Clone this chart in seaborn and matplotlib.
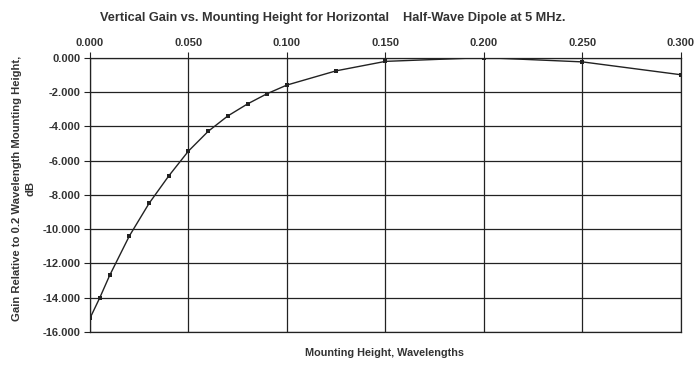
import seaborn as sns
import pandas as pd
import matplotlib.pyplot as plt
from matplotlib.ticker import FormatStrFormatter

# mounting height (wavelengths) and relative gain (dB)
height = [0.000, 0.005, 0.010, 0.020, 0.030, 0.040, 0.050, 0.060, 0.070,
          0.080, 0.090, 0.100, 0.125, 0.150, 0.200, 0.250, 0.300]
gain = [-15.2, -14.0, -12.7, -10.4, -8.5, -6.9, -5.45, -4.3, -3.4,
        -2.7, -2.1, -1.6, -0.77, -0.22, 0.0, -0.25, -1.0]

df = pd.DataFrame({'height': height, 'gain': gain})

sns.set_style('white')
plt.rcParams['font.family'] = ['Liberation Sans', 'DejaVu Sans']

fig = plt.figure(figsize=(6.97, 3.74), dpi=100)
ax = fig.add_axes([0.129, 0.112, 0.848, 0.734])

sns.lineplot(data=df, x='height', y='gain', ax=ax, color='#222222',
             linewidth=1.0, marker='s', markersize=3.2, markeredgewidth=0)

ax.set_xlim(0, 0.3)
ax.set_ylim(-16, 0)
ax.set_xticks([0, 0.05, 0.1, 0.15, 0.2, 0.25, 0.3])
ax.set_yticks(range(-16, 1, 2))
ax.xaxis.set_major_formatter(FormatStrFormatter('%.3f'))
ax.yaxis.set_major_formatter(FormatStrFormatter('%.3f'))
ax.xaxis.tick_top()
ax.tick_params(axis='both', labelsize=8, length=4, width=0.8,
               color='#222222', direction='out', pad=3)
ax.tick_params(axis='x', top=True, bottom=False)
ax.tick_params(axis='y', left=True)
for lab in ax.get_xticklabels() + ax.get_yticklabels():
    lab.set_fontweight('bold')
    lab.set_color('#333333')

ax.grid(True, color='#222222', linewidth=0.9)
for s in ax.spines.values():
    s.set_color('#222222')
    s.set_linewidth(0.9)

ax.set_xlabel('')
ax.set_ylabel('')
fig.text(0.478, 0.953, 'Vertical Gain vs. Mounting Height for Horizontal    Half-Wave Dipole at 5 MHz.',
         ha='center', va='center', fontsize=9.2, fontweight='bold', color='#333333')
fig.text(0.551, 0.056, 'Mounting Height, Wavelengths', ha='center', va='center',
         fontsize=7.8, fontweight='bold', color='#333333')
fig.text(0.034, 0.497, 'Gain Relative to 0.2 Wavelength Mounting Height,\ndB',
         ha='center', va='center', rotation=90, fontsize=8.1, fontweight='bold',
         color='#333333', linespacing=1.5)

plt.savefig('out.png', dpi=100)
